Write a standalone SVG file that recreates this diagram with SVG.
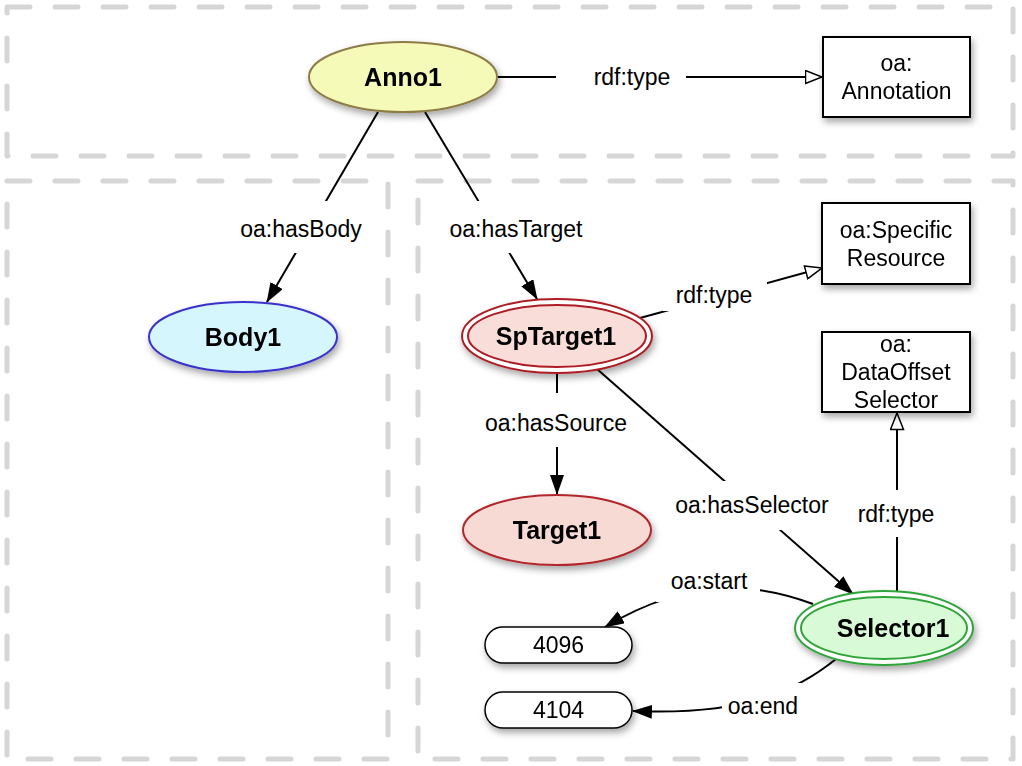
<svg xmlns="http://www.w3.org/2000/svg" width="1022" height="766" viewBox="0 0 1022 766">
  <defs>
    <filter id="shadow" x="-20%" y="-30%" width="150%" height="180%">
      <feDropShadow dx="2" dy="4" stdDeviation="3.5" flood-color="#000" flood-opacity="0.35"/>
    </filter>
    <marker id="arrow" viewBox="0 0 20 14" refX="19" refY="7" markerWidth="20" markerHeight="14" markerUnits="userSpaceOnUse" orient="auto">
      <path d="M0,0 L20,7 L0,14 z" fill="#000"/>
    </marker>
    <marker id="hollow" viewBox="0 0 19 15" refX="17.5" refY="7.5" markerWidth="19" markerHeight="15" markerUnits="userSpaceOnUse" orient="auto">
      <path d="M1,1 L17.5,7.5 L1,14 z" fill="#fff" stroke="#000" stroke-width="1.5" stroke-linejoin="miter"/>
    </marker>
  </defs>
  <style>
    .frame { fill: none; stroke: #d6d6d6; stroke-width: 5; stroke-dasharray: 23 25; stroke-linecap: round; stroke-linejoin: round; }
    .edge { fill: none; stroke: #000; stroke-width: 2; }
    .bg { fill: #fff; stroke: none; }
    .lbl { font-family: "Liberation Sans", Arial, sans-serif; font-size: 23px; fill: #000; text-anchor: middle; }
    .name { font-family: "Liberation Sans", Arial, sans-serif; font-size: 25px; font-weight: bold; fill: #000; text-anchor: middle; }
    .box { fill: #fff; stroke: #000; stroke-width: 2; }
    .lit { fill: #fff; stroke: #000; stroke-width: 1.5; }
  </style>

  <rect width="1022" height="766" fill="#fff"/>

  <!-- dashed partitions -->
  <g id="frames">
    <rect class="frame" x="7" y="7" width="1006" height="149"/>
    <rect class="frame" x="7" y="181" width="381" height="578"/>
    <rect class="frame" x="418" y="181" width="595" height="578"/>
  </g>

  <!-- connectors -->
  <g id="connectors">
    <path class="edge" d="M498,77 H822" marker-end="url(#hollow)"/>
    <path class="edge" d="M378,112 L267,302" marker-end="url(#arrow)"/>
    <path class="edge" d="M425,112 L537,299" marker-end="url(#arrow)"/>
    <path class="edge" d="M640,318 L822,268" marker-end="url(#hollow)"/>
    <path class="edge" d="M557,373 V494" marker-end="url(#arrow)"/>
    <path class="edge" d="M597,369 L853,594" marker-end="url(#arrow)"/>
    <path class="edge" d="M897,591 V413" marker-end="url(#hollow)"/>
    <path class="edge" d="M813,604 C770,588 700,570 605,627" marker-end="url(#arrow)"/>
    <path class="edge" d="M836,659 C800,688 750,716 633,711" marker-end="url(#arrow)"/>

    <!-- label backgrounds break the lines -->
    <rect class="bg" x="556" y="62" width="130" height="30"/>
    <rect class="bg" x="226" y="201" width="150" height="52"/>
    <rect class="bg" x="440" y="201" width="152" height="52"/>
    <rect class="bg" x="663" y="279" width="104" height="32"/>
    <rect class="bg" x="540" y="393" width="34" height="54"/>
    <rect class="bg" x="484" y="408" width="146" height="30"/>
    <rect class="bg" x="668" y="481" width="170" height="49"/>
    <rect class="bg" x="860" y="490" width="74" height="47"/>
    <rect class="bg" x="656" y="560" width="104" height="42"/>
    <rect class="bg" x="722" y="683" width="84" height="46"/>

    <text class="lbl" x="632" y="85">rdf:type</text>
    <text class="lbl" x="301" y="237">oa:hasBody</text>
    <text class="lbl" x="516" y="237">oa:hasTarget</text>
    <text class="lbl" x="714" y="303">rdf:type</text>
    <text class="lbl" x="556" y="431">oa:hasSource</text>
    <text class="lbl" x="752" y="513">oa:hasSelector</text>
    <text class="lbl" x="896" y="522">rdf:type</text>
    <text class="lbl" x="709" y="589">oa:start</text>
    <text class="lbl" x="763" y="714">oa:end</text>
  </g>

  <!-- nodes -->
  <g id="anno1" filter="url(#shadow)">
    <ellipse cx="403" cy="77" rx="94" ry="35" fill="#f5fab8" stroke="#8e7c47" stroke-width="2"/>
    <text class="name" x="403" y="86">Anno1</text>
  </g>

  <g id="oa-annotation" filter="url(#shadow)">
    <rect class="box" x="823" y="37" width="147" height="80"/>
    <text class="lbl" x="896.5" y="71">oa:</text>
    <text class="lbl" x="896.5" y="99">Annotation</text>
  </g>

  <g id="body1" filter="url(#shadow)">
    <ellipse cx="243" cy="337" rx="94" ry="35" fill="#d6f6fe" stroke="#3a31cc" stroke-width="2"/>
    <text class="name" x="243" y="346">Body1</text>
  </g>

  <g id="sptarget1" filter="url(#shadow)">
    <ellipse cx="557" cy="336" rx="95" ry="37" fill="#fff" stroke="#ad1c22" stroke-width="2"/>
    <ellipse cx="557" cy="336" rx="89" ry="31" fill="#f8ddd9" stroke="#ad1c22" stroke-width="2"/>
    <text class="name" x="556" y="345">SpTarget1</text>
  </g>

  <g id="oa-specificresource" filter="url(#shadow)">
    <rect class="box" x="822" y="203" width="148" height="81"/>
    <text class="lbl" x="896" y="238">oa:Specific</text>
    <text class="lbl" x="896" y="266">Resource</text>
  </g>

  <g id="oa-dataoffsetselector" filter="url(#shadow)">
    <rect class="box" x="822" y="332" width="148" height="80"/>
    <text class="lbl" x="896" y="352">oa:</text>
    <text class="lbl" x="896" y="380">DataOffset</text>
    <text class="lbl" x="896" y="408">Selector</text>
  </g>

  <g id="target1" filter="url(#shadow)">
    <ellipse cx="557" cy="530" rx="94" ry="35" fill="#f8dad5" stroke="#b0262b" stroke-width="2"/>
    <text class="name" x="557" y="539">Target1</text>
  </g>

  <g id="selector1" filter="url(#shadow)">
    <ellipse cx="884" cy="628" rx="89" ry="37" fill="#fff" stroke="#2fa53b" stroke-width="2"/>
    <ellipse cx="884" cy="628" rx="83" ry="31" fill="#d8fad6" stroke="#2fa53b" stroke-width="2"/>
    <text class="name" x="893" y="637">Selector1</text>
  </g>

  <g id="lit-4096" filter="url(#shadow)">
    <rect class="lit" x="485" y="627" width="147" height="36" rx="18" ry="18"/>
    <text class="lbl" x="558.5" y="653">4096</text>
  </g>

  <g id="lit-4104" filter="url(#shadow)">
    <rect class="lit" x="485" y="692" width="147" height="36" rx="18" ry="18"/>
    <text class="lbl" x="558.5" y="718">4104</text>
  </g>
</svg>
